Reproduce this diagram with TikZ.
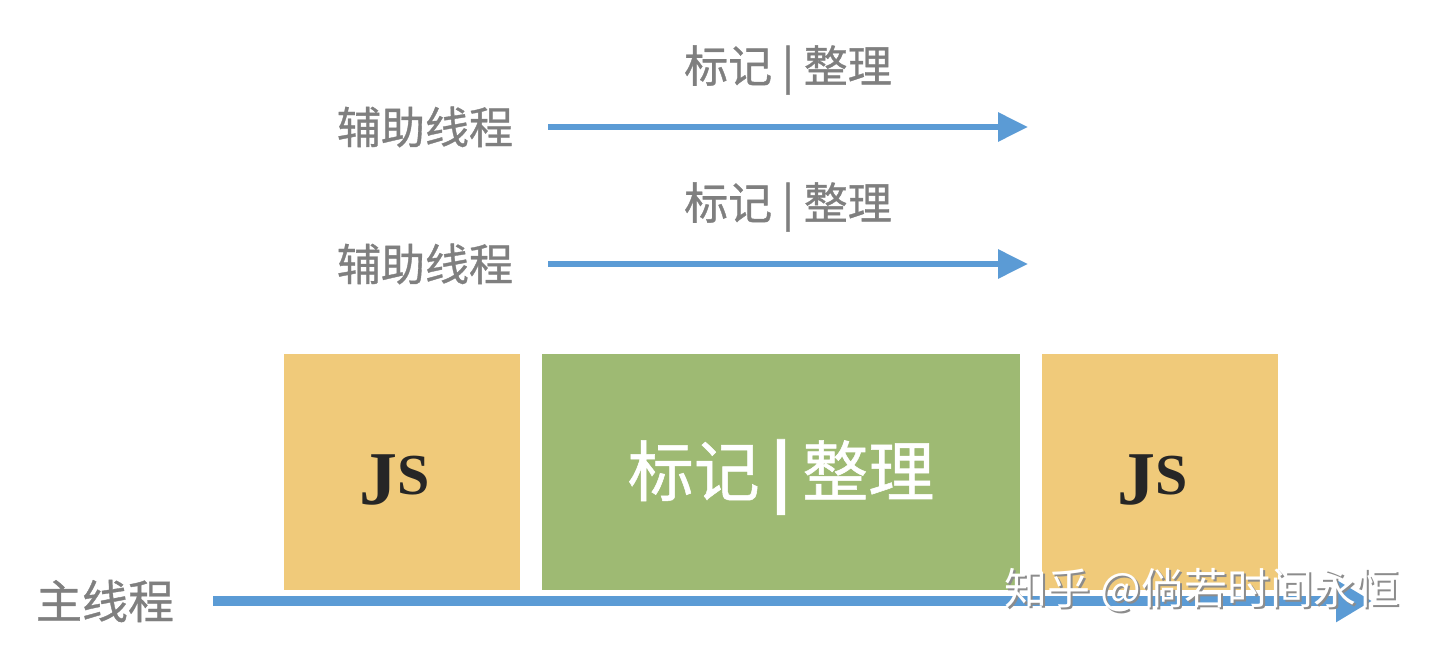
\documentclass[tikz,border=0pt]{standalone}
\usepackage{fontspec}
\newfontfamily\cjk[FakeBold=0.8]{Noto Sans CJK SC}
\newfontfamily\cjkw{Noto Sans CJK SC}
\newfontfamily\jsfont{Liberation Serif}
\usetikzlibrary{arrows.meta}
\definecolor{txtgray}{HTML}{7F7F7F}
\definecolor{arrblue}{HTML}{5B9BD5}
\definecolor{boxyel}{HTML}{F0CA7A}
\definecolor{boxgrn}{HTML}{9EBA73}
\tikzset{
  lbl/.style={text=txtgray,font=\cjk\fontsize{44}{44}\selectfont,inner sep=0},
  thr/.style={draw=arrblue,line width=6pt,-{Triangle[length=30pt,width=28pt]}},
  jsbox/.style={fill=boxyel,draw=none,minimum width=236pt,minimum height=236pt,inner sep=0},
  gcbox/.style={fill=boxgrn,draw=none,minimum width=478pt,minimum height=236pt,inner sep=0},
  jst/.style={font=\jsfont\bfseries\fontsize{76}{76}\selectfont,text={black!85}},
}
\begin{document}
\begin{tikzpicture}[x=1pt,y=-1pt]
\useasboundingbox (0,0) rectangle (1434,650);
% helper threads
\node[lbl] (h1) at (425,127) {辅助线程};
\coordinate (h1s) at (548,127); \coordinate (h1e) at (1028,127);
\draw[thr] (h1s) -- (h1e);
\node[lbl] (l1) at (788,70) {标记 | 整理};
\node[lbl] (h2) at (425,264) {辅助线程};
\coordinate (h2s) at (548,264); \coordinate (h2e) at (1028,264);
\draw[thr] (h2s) -- (h2e);
\node[lbl] (l2) at (788,207) {标记 | 整理};
% boxes
\node[jsbox] (js1) at (402,472) {};
\node[gcbox] (gc) at (781,472) {};
\node[jsbox] (js2) at (1160,472) {};
\node[jst] at (395,480) {J\raisebox{10pt}{\fontsize{58}{58}\selectfont S}};
\node[jst] at (1153,480) {J\raisebox{10pt}{\fontsize{58}{58}\selectfont S}};
\node[text=white,font=\cjk\fontsize{66}{66}\selectfont] at (781,477) {标记\,\textbf{|}\,整理};
% main thread
\node[lbl,font=\cjk\fontsize{46}{46}\selectfont] (m) at (105,601) {主线程};
\coordinate (ms) at (213,601); \coordinate (me) at (1372,601);
\draw[draw=arrblue,line width=10pt,-{Triangle[length=36pt,width=40pt]}] (ms) -- (me);
% watermark
\node[text=black!45,font=\cjkw\fontsize{43}{43}\selectfont] at (1204,592) {知乎 @倘若时间永恒};
\node[text=white,font=\cjkw\fontsize{43}{43}\selectfont] at (1202,590) {知乎 @倘若时间永恒};
\end{tikzpicture}
\end{document}
